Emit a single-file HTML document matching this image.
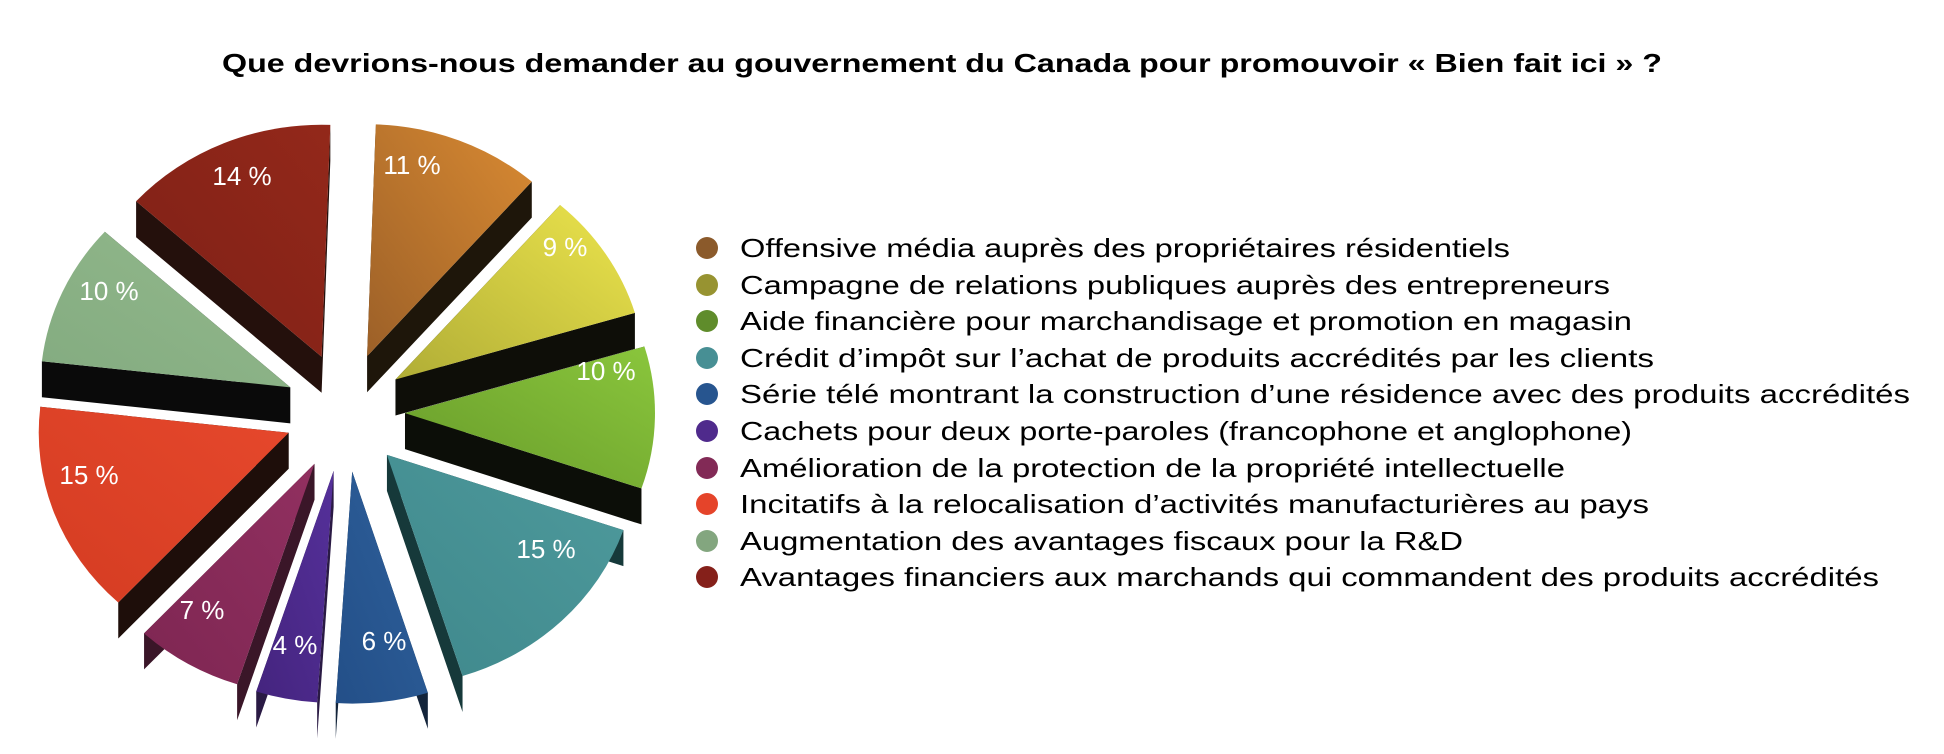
<!DOCTYPE html>
<html><head><meta charset="utf-8"><style>html,body{margin:0;padding:0;background:#fff;width:1944px;height:754px;overflow:hidden}</style></head>
<body>
<svg id="s" width="1944" height="754" xmlns="http://www.w3.org/2000/svg" font-family="Liberation Sans, Arial, sans-serif">
<defs></defs>
<g id="pie"></g>
<g id="lab" fill="#fff" font-size="26" text-anchor="middle">
<text x="412" y="174">11 %</text>
<text x="565" y="256">9 %</text>
<text x="606" y="380">10 %</text>
<text x="546" y="558">15 %</text>
<text x="384" y="650">6 %</text>
<text x="295" y="654">4 %</text>
<text x="202" y="619">7 %</text>
<text x="89" y="484">15 %</text>
<text x="109" y="300">10 %</text>
<text x="242" y="185">14 %</text>
</g>
<text x="942" y="72" font-size="26" font-weight="bold" text-anchor="middle" textLength="1440" lengthAdjust="spacingAndGlyphs">Que devrions-nous demander au gouvernement du Canada pour promouvoir « Bien fait ici » ?</text>
<g font-size="26" fill="#000">
<circle cx="707" cy="248" r="11" fill="#8b5a2b"/><text x="740" y="257" textLength="770" lengthAdjust="spacingAndGlyphs">Offensive média auprès des propriétaires résidentiels</text>
<circle cx="707" cy="285" r="11" fill="#979331"/><text x="740" y="294" textLength="870" lengthAdjust="spacingAndGlyphs">Campagne de relations publiques auprès des entrepreneurs</text>
<circle cx="707" cy="321" r="11" fill="#5f8c2b"/><text x="740" y="330" textLength="892" lengthAdjust="spacingAndGlyphs">Aide financière pour marchandisage et promotion en magasin</text>
<circle cx="707" cy="358" r="11" fill="#478f94"/><text x="740" y="367" textLength="914" lengthAdjust="spacingAndGlyphs">Crédit d’impôt sur l’achat de produits accrédités par les clients</text>
<circle cx="707" cy="394" r="11" fill="#27558f"/><text x="740" y="403" textLength="1170" lengthAdjust="spacingAndGlyphs">Série télé montrant la construction d’une résidence avec des produits accrédités</text>
<circle cx="707" cy="431" r="11" fill="#4f2a8c"/><text x="740" y="440" textLength="892" lengthAdjust="spacingAndGlyphs">Cachets pour deux porte-paroles (francophone et anglophone)</text>
<circle cx="707" cy="468" r="11" fill="#822a56"/><text x="740" y="477" textLength="825" lengthAdjust="spacingAndGlyphs">Amélioration de la protection de la propriété intellectuelle</text>
<circle cx="707" cy="504" r="11" fill="#e5442a"/><text x="740" y="513" textLength="909" lengthAdjust="spacingAndGlyphs">Incitatifs à la relocalisation d’activités manufacturières au pays</text>
<circle cx="707" cy="541" r="11" fill="#83a67f"/><text x="740" y="550" textLength="723" lengthAdjust="spacingAndGlyphs">Augmentation des avantages fiscaux pour la R&amp;D</text>
<circle cx="707" cy="577" r="11" fill="#85201a"/><text x="740" y="586" textLength="1139" lengthAdjust="spacingAndGlyphs">Avantages financiers aux marchands qui commandent des produits accrédités</text>
</g>
</svg>
<script>
(function(){
var NS="http://www.w3.org/2000/svg";
var pie=document.getElementById('pie'),defs=document.querySelector('defs');
var cx=345,cy=412,rx=250,ry=232,E=60,D=36,off=2;
var data=[[11,'#9c6028','#d98a32','#1e160a'],[9,'#b0ad36','#ece44c','#0e0e08'],[10,'#679a2a','#8ac63c','#0c0e08'],[15,'#3f888c','#4e9a9c','#16393a'],[6,'#234f88','#2f619c','#13243a'],[4,'#44247e','#55309a','#2a1a44'],[7,'#7e2652','#913060','#3a1628'],[15,'#d43c22','#e6482c','#1e0e0a'],[10,'#83ab80','#93b98c','#0a0a0a'],[14,'#7e2016','#93281a','#24100c']];
function P(t,ox,oy){var a=t*Math.PI/180;return [cx+ox+rx*Math.sin(a),cy+oy-ry*Math.cos(a)];}
var cum=0,sides='',faces='';
data.forEach(function(d,i){
 var a0=off+cum*3.6*100/101,a1=off+(cum+d[0])*3.6*100/101;cum+=d[0];
 var m=(a0+a1)/2*Math.PI/180,ox=E*Math.sin(m),oy=-E*Math.cos(m);
 var A=[cx+ox,cy+oy],p0=P(a0,ox,oy),p1=P(a1,ox,oy);
 function q(p){return 'M'+A[0]+','+A[1]+'L'+p[0]+','+p[1]+'L'+p[0]+','+(p[1]+D)+'L'+A[0]+','+(A[1]+D)+'Z';}
 sides+='<path d="'+q(p0)+q(p1)+'" fill="'+d[3]+'"/>';
 var g=document.createElementNS(NS,'linearGradient');g.id='g'+i;g.setAttribute('x1','0');g.setAttribute('y1','1');g.setAttribute('x2','1');g.setAttribute('y2','0');
 g.innerHTML='<stop offset="0" stop-color="'+d[1]+'"/><stop offset="1" stop-color="'+d[2]+'"/>';defs.appendChild(g);
 var large=(a1-a0)>180?1:0;
 faces+='<path d="M'+A[0]+','+A[1]+'L'+p0[0]+','+p0[1]+'A'+rx+','+ry+' 0 '+large+' 1 '+p1[0]+','+p1[1]+'Z" fill="url(#g'+i+')"/>';
});
pie.innerHTML=sides+faces;
})();
</script>
</body></html>
